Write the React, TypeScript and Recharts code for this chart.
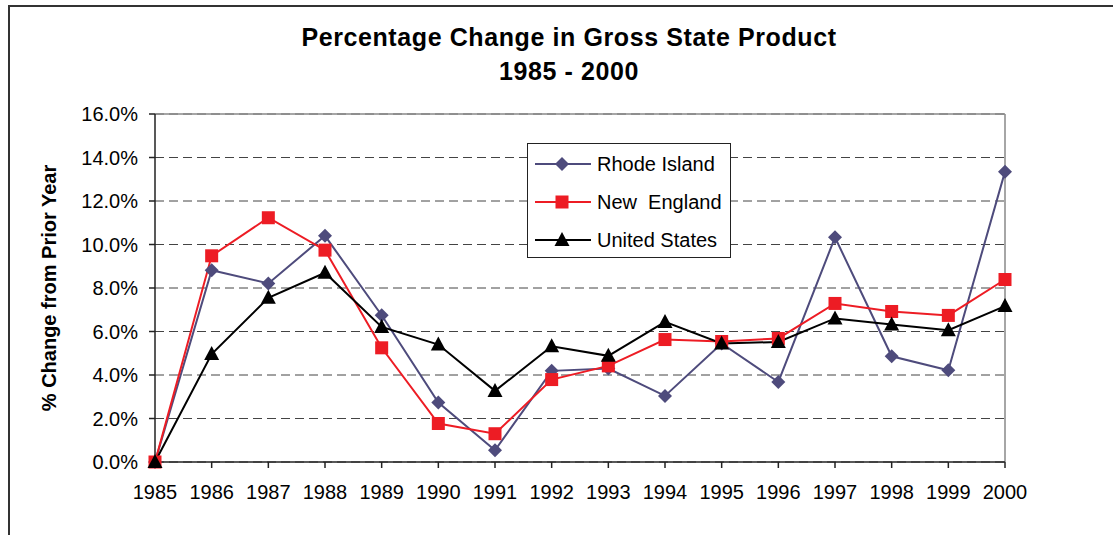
import {
  LineChart,
  Line,
  XAxis,
  YAxis,
  CartesianGrid,
  ReferenceLine,
  Legend,
  Label,
} from 'recharts';

const years = ['1985', '1986', '1987', '1988', '1989', '1990', '1991', '1992', '1993', '1994', '1995', '1996', '1997', '1998', '1999', '2000'];
const rhodeIsland = [0, 8.82, 8.21, 10.4, 6.75, 2.73, 0.54, 4.19, 4.3, 3.04, 5.45, 3.68, 10.33, 4.86, 4.22, 13.35];
const newEngland = [0, 9.48, 11.23, 9.74, 5.25, 1.77, 1.3, 3.79, 4.42, 5.63, 5.54, 5.68, 7.29, 6.92, 6.74, 8.39];
const unitedStates = [0, 4.96, 7.55, 8.7, 6.21, 5.4, 3.27, 5.32, 4.88, 6.44, 5.45, 5.52, 6.6, 6.32, 6.06, 7.17];
const yTicks = [0, 2, 4, 6, 8, 10, 12, 14, 16];

const data = years.map((year, i) => ({
  year,
  ri: rhodeIsland[i],
  ne: newEngland[i],
  us: unitedStates[i],
}));

const FONT = "Arial, 'Liberation Sans', sans-serif";
const RI_COLOR = '#4E4B7C';
const NE_COLOR = '#ED1C24';
const US_COLOR = '#000000';

function Marker({ kind, cx, cy, color }: { kind: string; cx: number; cy: number; color: string }) {
  if (kind === 'diamond') {
    return <polygon points={`${cx},${cy - 7} ${cx + 7},${cy} ${cx},${cy + 7} ${cx - 7},${cy}`} fill={color} />;
  }
  if (kind === 'square') {
    return <rect x={cx - 6.5} y={cy - 6.5} width={13} height={13} fill={color} />;
  }
  return <polygon points={`${cx},${cy - 8} ${cx + 7.5},${cy + 6} ${cx - 7.5},${cy + 6}`} fill={color} />;
}

const makeDot = (kind: string, color: string) => (props: any) => {
  const { cx, cy, index } = props;
  return (
    <g key={`${kind}-${index}`}>
      <Marker kind={kind} cx={cx} cy={cy} color={color} />
    </g>
  );
};

const legendItems = [
  { label: 'Rhode Island', kind: 'diamond', color: RI_COLOR },
  { label: 'New  England', kind: 'square', color: NE_COLOR },
  { label: 'United States', kind: 'triangle', color: US_COLOR },
];

function LegendBox() {
  return (
    <div
      style={{
        width: 204,
        height: 115,
        border: '1px solid #222',
        background: '#fff',
        boxSizing: 'border-box',
        paddingTop: 1,
      }}
    >
      {legendItems.map((item) => (
        <div key={item.label} style={{ display: 'flex', alignItems: 'center', height: 38 }}>
          <svg width={66} height={20} style={{ marginLeft: 6 }}>
            <line x1={1} y1={10} x2={57} y2={10} stroke={item.color} strokeWidth={2} />
            <Marker kind={item.kind} cx={28} cy={10} color={item.color} />
          </svg>
          <span style={{ fontFamily: FONT, fontSize: 20, color: '#000', whiteSpace: 'pre', marginLeft: -3 }}>
            {item.label}
          </span>
        </div>
      ))}
    </div>
  );
}

export default function App() {
  return (
    <div style={{ position: 'fixed', left: 0, top: 0, width: 1113, height: 535, background: '#fff', overflow: 'hidden' }}>
      <div
        style={{
          position: 'absolute',
          left: 8,
          top: 5,
          width: 1120,
          height: 540,
          borderLeft: '2px solid #333',
          borderTop: '2px solid #333',
        }}
      />
      <div
        style={{
          position: 'absolute',
          left: 0,
          width: 1138,
          top: 20,
          textAlign: 'center',
          fontFamily: FONT,
          fontWeight: 'bold',
          fontSize: 25,
          letterSpacing: 0.6,
          lineHeight: '34px',
          color: '#000',
        }}
      >
        <div>Percentage Change in Gross State Product</div>
        <div>1985 - 2000</div>
      </div>
      <div style={{ position: 'absolute', left: 0, top: 0 }}>
        <LineChart width={1113} height={535} data={data} margin={{ top: 114, right: 108, bottom: 43, left: 0 }}>
          <CartesianGrid vertical={false} stroke="#444" strokeDasharray="9 5" />
          <ReferenceLine y={16} stroke="#888" strokeWidth={1.5} />
          <ReferenceLine x="2000" stroke="#888" strokeWidth={1.5} />
          <XAxis
            dataKey="year"
            height={30}
            stroke="#222"
            strokeWidth={1.5}
            tickSize={6}
            tickMargin={17}
            interval={0}
            tick={{ fill: '#000', fontSize: 20, fontFamily: FONT }}
          />
          <YAxis
            width={155}
            domain={[0, 16]}
            ticks={yTicks}
            stroke="#222"
            strokeWidth={1.5}
            tickSize={6}
            tickMargin={11}
            tickFormatter={(v: number) => `${v.toFixed(1)}%`}
            tick={{ fill: '#000', fontSize: 20, fontFamily: FONT }}
          >
            <Label
              content={(props: any) => {
                const vb = props.viewBox;
                const cy = vb.y + vb.height / 2;
                return (
                  <text
                    x={56}
                    y={cy}
                    transform={`rotate(-90, 56, ${cy})`}
                    textAnchor="middle"
                    fontFamily={FONT}
                    fontWeight="bold"
                    fontSize={20}
                    fill="#000"
                  >
                    % Change from Prior Year
                  </text>
                );
              }}
            />
          </YAxis>
          <Legend
            layout="vertical"
            align="center"
            verticalAlign="middle"
            wrapperStyle={{ left: 527, top: 143, width: 204, height: 115 }}
            content={() => <LegendBox />}
          />
          <Line
            dataKey="ri"
            name="Rhode Island"
            stroke={RI_COLOR}
            strokeWidth={2}
            dot={makeDot('diamond', RI_COLOR)}
            isAnimationActive={false}
          />
          <Line
            dataKey="ne"
            name="New England"
            stroke={NE_COLOR}
            strokeWidth={2}
            dot={makeDot('square', NE_COLOR)}
            isAnimationActive={false}
          />
          <Line
            dataKey="us"
            name="United States"
            stroke={US_COLOR}
            strokeWidth={2}
            dot={makeDot('triangle', US_COLOR)}
            isAnimationActive={false}
          />
        </LineChart>
      </div>
    </div>
  );
}
